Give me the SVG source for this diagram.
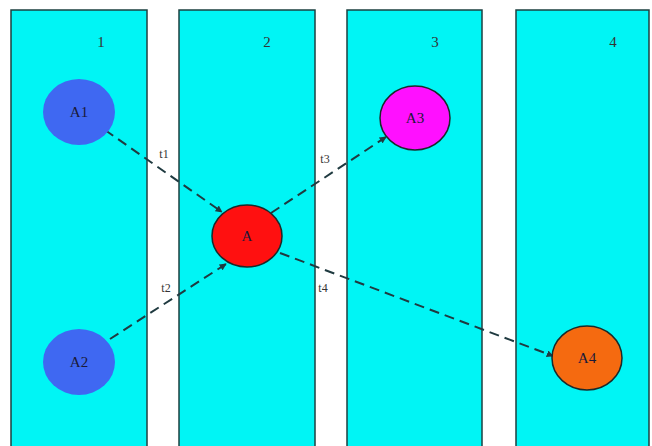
<svg xmlns="http://www.w3.org/2000/svg" width="652" height="446" viewBox="0 0 652 446">
<defs>
<style>
.lane{fill:#00F5F5;stroke:#1d4040;stroke-width:1.5}
.lbl{font-family:"Liberation Serif",serif;font-size:15px;fill:#333;text-anchor:middle}
.nlbl{font-family:"Liberation Serif",serif;font-size:15px;fill:#1a1a3a;text-anchor:middle;dominant-baseline:central}
.elbl{font-family:"Liberation Serif",serif;font-size:12px;fill:#333;text-anchor:middle}
.edge{fill:none;stroke:#1f3a40;stroke-width:2;stroke-dasharray:10,6}
.node{stroke:#1a2a2a;stroke-width:1.5}
</style>
<marker id="arr" viewBox="0 0 10 10" refX="9" refY="5" markerWidth="7" markerHeight="7" orient="auto" markerUnits="userSpaceOnUse">
<path d="M0,0 L10,5 L0,10 z" fill="#1f3a40"/>
</marker>
</defs>
<rect width="652" height="446" fill="#ffffff"/>
<g id="lanes">
<g id="lane1"><rect class="lane" x="11" y="10" width="136" height="440"/><text class="lbl" x="101" y="47">1</text></g>
<g id="lane2"><rect class="lane" x="179" y="10" width="136" height="440"/><text class="lbl" x="267" y="47">2</text></g>
<g id="lane3"><rect class="lane" x="347" y="10" width="135" height="440"/><text class="lbl" x="435" y="47">3</text></g>
<g id="lane4"><rect class="lane" x="516" y="10" width="133" height="440"/><text class="lbl" x="613" y="47">4</text></g>
</g>
<g id="connectors">
<g id="e1"><path class="edge" d="M105,130 L222,212" marker-end="url(#arr)"/><text class="elbl" x="164" y="158">t1</text></g>
<g id="e2"><path class="edge" d="M110,339 L226,264" marker-end="url(#arr)"/><text class="elbl" x="166" y="292">t2</text></g>
<g id="e3"><path class="edge" d="M271,213 L386,137" marker-end="url(#arr)"/><text class="elbl" x="325" y="163">t3</text></g>
<g id="e4"><path class="edge" d="M280,253 L553,356" marker-end="url(#arr)"/><text class="elbl" x="323" y="292">t4</text></g>
</g>
<g id="A1"><ellipse cx="79" cy="112" rx="36" ry="33" fill="#3f68f2"/><text class="nlbl" x="79" y="112">A1</text></g>
<g id="A2"><ellipse cx="79" cy="362" rx="36" ry="33" fill="#3f68f2"/><text class="nlbl" x="79" y="362">A2</text></g>
<g id="A"><ellipse class="node" cx="247" cy="236" rx="35" ry="31" fill="#ff1010"/><text class="nlbl" x="247" y="236">A</text></g>
<g id="A3"><ellipse class="node" cx="415" cy="118" rx="35" ry="32" fill="#ff10ff"/><text class="nlbl" x="415" y="118">A3</text></g>
<g id="A4"><ellipse class="node" cx="587" cy="358" rx="35" ry="32" fill="#f56a10"/><text class="nlbl" x="587" y="358">A4</text></g>
</svg>
